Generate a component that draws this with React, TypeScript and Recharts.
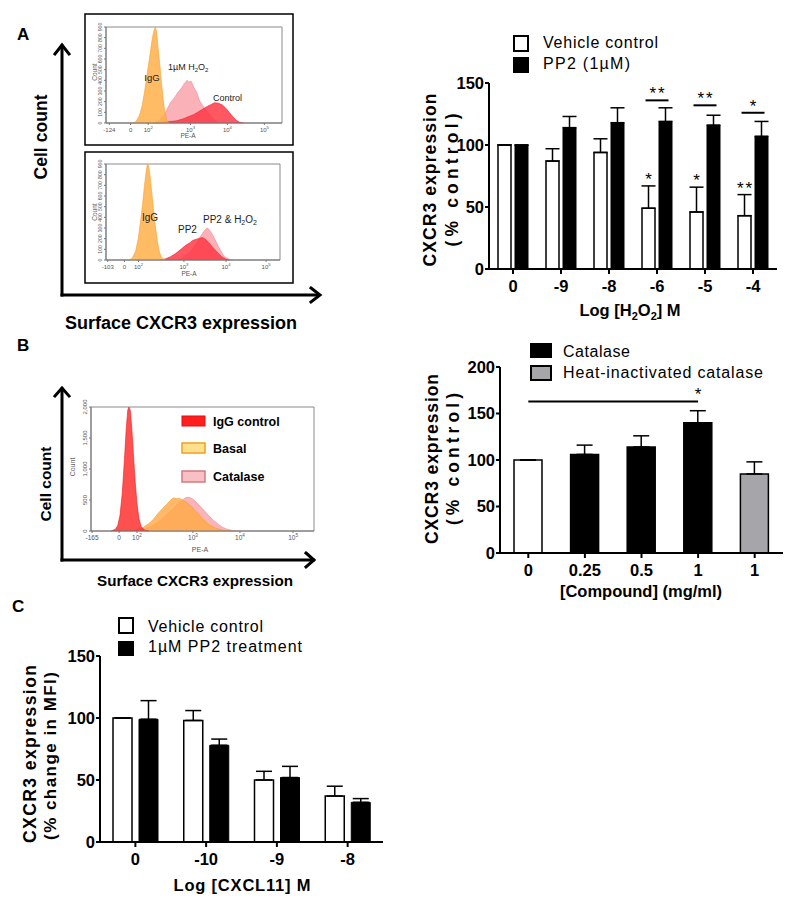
import React from 'react'
import {
  Area,
  AreaChart,
  Bar,
  BarChart,
  Cell,
  ErrorBar,
  LabelList,
  ReferenceArea,
  ReferenceDot,
  ReferenceLine,
  XAxis,
  YAxis,
} from 'recharts'

const FONT = '"Liberation Sans", Arial, Helvetica, sans-serif'

type Pt = [number, number]

// ---------- Panel A (left): flow histograms, x = position on the logicle display (0-100)
const topXTicks = [1.9, 14, 24, 48, 69, 90]
const topXLabels = ['-124', '0', '10^2', '10^3', '10^4', '10^5']
const topCountTicks = [0, 100, 200, 300, 400, 500, 600, 700, 800, 900]
const topIgG: Pt[] = [[15, 0], [17, 12], [19, 70], [20.5, 160], [22, 300], [23, 420], [24, 530], [25, 640], [26, 760], [27, 850], [28, 900], [28.7, 860], [29.5, 720], [30.5, 560], [31.5, 380], [32.5, 220], [33.5, 90], [34.5, 25], [36, 0]]
const topH2O2: Pt[] = [[27, 0], [30, 20], [33, 70], [35, 140], [37, 200], [39, 240], [41, 290], [43, 330], [44.5, 370], [46, 400], [47, 385], [48.5, 390], [50, 330], [51.5, 290], [53, 215], [55, 160], [57, 120], [59, 80], [61, 40], [64, 0]]
const topControl: Pt[] = [[28, 0], [34, 10], [40, 20], [44, 40], [47, 60], [50, 80], [52, 100], [54, 120], [56, 140], [58, 160], [60, 175], [61.5, 190], [63, 188], [64, 185], [66, 170], [68, 140], [70, 100], [72, 60], [74, 25], [76, 8], [78, 0]]

const botXTicks = [1, 10.6, 18.7, 44.8, 69, 92]
const botXLabels = ['-103', '0', '10^2', '10^3', '10^4', '10^5']
const botIgG: Pt[] = [[13, 0], [15, 15], [17, 80], [18.5, 200], [20, 380], [21, 520], [22, 680], [23, 820], [23.8, 900], [24.6, 880], [25.5, 760], [26.5, 600], [27.5, 440], [28.5, 300], [29.5, 180], [30.5, 90], [31.5, 35], [33, 8], [35, 0]]
const botPP2: Pt[] = [[31, 0], [34, 10], [37, 30], [40, 60], [43, 100], [46, 140], [48, 160], [50, 185], [52, 195], [54, 205], [55.5, 210], [57, 195], [59, 165], [61, 125], [63, 90], [65, 55], [67, 25], [69, 8], [71, 0]]
const botMix: Pt[] = [[42, 0], [45, 30], [48, 70], [50, 110], [52, 160], [54, 215], [55.5, 250], [57, 285], [58, 300], [59, 290], [60, 270], [61.5, 230], [63, 180], [64.5, 130], [66, 85], [67.5, 45], [69, 20], [71, 5], [73, 0]]

// ---------- Panel B (left): flow histogram
const bXTicks = [0.5, 12.6, 20.6, 45.7, 66.8, 90.6]
const bXLabels = ['-165', '0', '10^2', '10^3', '10^4', '10^5']
const bCountTicks = [0, 500, 1000, 1500, 2000]
const bIgG: Pt[] = [[9, 0], [11, 30], [12, 90], [13, 250], [14, 600], [15, 1150], [15.8, 1650], [16.5, 1950], [17, 2000], [17.6, 1950], [18.2, 1700], [19, 1250], [19.8, 800], [20.6, 450], [21.5, 200], [22.5, 70], [24, 15], [26, 0]]
const bBasal: Pt[] = [[17, 0], [20, 15], [23, 50], [26, 120], [28, 190], [30, 280], [32, 360], [34, 430], [35.5, 490], [37, 535], [38.2, 520], [39.5, 530], [41, 500], [43, 460], [45, 400], [47, 320], [49, 240], [51, 160], [53, 100], [56, 45], [59, 15], [63, 0]]
const bCatalase: Pt[] = [[20, 0], [24, 30], [28, 90], [31, 170], [34, 270], [37, 370], [39, 440], [41, 500], [42.5, 540], [44, 545], [45.5, 520], [47, 470], [49, 400], [51, 320], [53, 240], [55, 170], [57, 110], [59, 60], [61, 30], [63, 12], [66, 0]]

// ---------- Panel A (right): CXCR3 vs H2O2
const aCats = ['0', '-9', '-8', '-6', '-5', '-4']
const aVehicle = [100, 87, 94, 49, 46, 43]
const aVehicleErr = [0, 10, 11, 18, 20, 17]
const aPP2 = [100, 114, 118, 119, 116, 107]
const aPP2Err = [0, 9, 12, 11, 8, 12]
const aVehicleStars = ['', '', '', '*', '*', '**']
const aPairStars = ['', '', '', '**', '**', '*']
const aPairLineAt = [0, 0, 0, 136, 132, 126]

// ---------- Panel B (right): catalase
const bKeys = ['c0', 'c1', 'c2', 'c3', 'c4']
const bLabels = ['0', '0.25', '0.5', '1', '1']
const bValues = [100, 106, 114, 140, 85]
const bErr = [0, 10, 12, 13, 13]
const bFills = ['#ffffff', '#000000', '#000000', '#000000', '#a6a6aa']
const bSigFrom = 'c0'
const bSigTo = 'c3'
const bSigAt = 163

// ---------- Panel C: CXCL11
const cCats = ['0', '-10', '-9', '-8']
const cVehicle = [100, 98, 50, 37]
const cVehicleErr = [0, 8, 7, 8]
const cPP2 = [99, 78, 52, 32]
const cPP2Err = [15, 5, 9, 3]

const aRows = aCats.map((cat, i) => ({
  cat,
  veh: aVehicle[i],
  vehErr: [0, aVehicleErr[i]],
  pp2: aPP2[i],
  pp2Err: [0, aPP2Err[i]],
}))
const bRows = bKeys.map((key, i) => ({ key, val: bValues[i], err: [0, bErr[i]] }))
const cRows = cCats.map((cat, i) => ({
  cat,
  veh: cVehicle[i],
  vehErr: [0, cVehicleErr[i]],
  pp2: cPP2[i],
  pp2Err: [0, cPP2Err[i]],
}))

function mergeSeries(series: Record<string, Pt[]>) {
  const rows = new Map<number, Record<string, number>>()
  Object.entries(series).forEach(([key, pts]) => {
    pts.forEach(([x, y]) => {
      const row = rows.get(x) ?? { x }
      row[key] = y
      rows.set(x, row)
    })
  })
  return Array.from(rows.values()).sort((a, b) => a.x - b.x)
}

function makePowTick(positions: number[], labels: string[], size: number) {
  return function PowTick(props: any) {
    const { x, y, payload } = props
    const lab = labels[positions.indexOf(payload.value)] ?? ''
    const [base, exp] = lab.split('^')
    return (
      <text x={x} y={y + size * 0.8} textAnchor="middle" fontSize={size} fill="#555" fontFamily={FONT}>
        {base}
        {exp && (
          <tspan dy={-size * 0.45} fontSize={size * 0.7}>
            {exp}
          </tspan>
        )}
      </text>
    )
  }
}

function makeRotTick(size: number) {
  return function RotTick(props: any) {
    const { x, y, payload } = props
    return (
      <text x={x} y={y} transform={`rotate(-90 ${x} ${y})`} textAnchor="middle" fontSize={size} fill="#555" fontFamily={FONT}>
        {Number(payload.value).toLocaleString('en-US')}
      </text>
    )
  }
}

interface HistSeries {
  key: string
  points: Pt[]
  color: string
  edge: string
}

interface HistProps {
  width: number
  height: number
  margin: { top: number; right: number; bottom: number; left: number }
  series: HistSeries[]
  xTicks: number[]
  xLabels: string[]
  yTicks: number[]
  yMax: number
  xTickFont: number
  yTickFont: number
  yWidth: number
}

function FlowHistogram(p: HistProps) {
  const data = mergeSeries(Object.fromEntries(p.series.map((s) => [s.key, s.points])))
  return (
    <AreaChart width={p.width} height={p.height} data={data} margin={p.margin}>
      <XAxis
        dataKey="x"
        type="number"
        domain={[0, 100]}
        ticks={p.xTicks}
        interval={0}
        tick={makePowTick(p.xTicks, p.xLabels, p.xTickFont)}
        tickSize={2}
        tickLine={{ stroke: '#777' }}
        axisLine={{ stroke: '#777' }}
        height={17}
      />
      <YAxis
        type="number"
        domain={[0, p.yMax]}
        ticks={p.yTicks}
        interval={0}
        width={p.yWidth}
        tick={makeRotTick(p.yTickFont)}
        tickSize={2}
        tickLine={{ stroke: '#777' }}
        axisLine={{ stroke: '#777' }}
      />
      <ReferenceArea x1={0} x2={100} y1={0} y2={p.yMax} fill="none" stroke="#8a8a8a" strokeWidth={1} />
      {p.series.map((s) => (
        <Area
          key={s.key}
          type="linear"
          dataKey={s.key}
          stroke={s.edge}
          strokeWidth={0.6}
          fill={s.color}
          fillOpacity={0.82}
          connectNulls
          dot={false}
          activeDot={false}
          isAnimationActive={false}
        />
      ))}
    </AreaChart>
  )
}

function box(p: any) {
  const vb = p.viewBox ?? {}
  return {
    x: Number(p.x ?? vb.x),
    y: Number(p.y ?? vb.y),
    width: Number(p.width ?? vb.width),
    height: Number(p.height ?? vb.height),
  }
}

const starStyle = { fontSize: 17, fontFamily: FONT, fill: '#000', letterSpacing: 2 }

function vehicleStar(p: any) {
  const i = p.index
  const s = aVehicleStars[i]
  if (!s) return null
  const { x, y, width, height } = box(p)
  const unit = height / aVehicle[i]
  const top = y - aVehicleErr[i] * unit
  return (
    <text x={x + width / 2 + 1} y={top - 1} textAnchor="middle" style={starStyle}>
      {s}
    </text>
  )
}

function pairSig(p: any) {
  const i = p.index
  const s = aPairStars[i]
  if (!s) return null
  const { x, y, width, height } = box(p)
  const unit = height / aPP2[i]
  const ly = y + height - aPairLineAt[i] * unit
  const x1 = x - 4 - width / 2 - 3
  const x2 = x + width / 2 + 3
  return (
    <g>
      <line x1={x1} x2={x2} y1={ly} y2={ly} stroke="#000" strokeWidth={2} />
      <text x={(x1 + x2) / 2 + 1} y={ly - 1} textAnchor="middle" style={starStyle}>
        {s}
      </text>
    </g>
  )
}

const tickFont = { fontSize: 16.5, fontWeight: 700, fill: '#000', fontFamily: FONT }
const axisStroke = { stroke: '#000', strokeWidth: 2 }

function Overlay() {
  const bold = { fontWeight: 700, fontFamily: FONT, fill: '#000' }
  return (
    <svg width={800} height={906} style={{ position: 'absolute', left: 0, top: 0, pointerEvents: 'none' }} fontFamily={FONT}>
      {/* panel letters */}
      <text x={17} y={40} fontSize={17} style={bold}>A</text>
      <text x={17} y={351} fontSize={17} style={bold}>B</text>
      <text x={12} y={612} fontSize={17} style={bold}>C</text>

      {/* panel A histogram frames */}
      <rect x={85} y={14} width={208} height={131} fill="none" stroke="#000" strokeWidth={1.5} />
      <rect x={85} y={152} width={208} height={131} fill="none" stroke="#000" strokeWidth={1.5} />

      {/* panel A histogram labels */}
      <text x={97} y={72} fontSize={6.5} fill="#666" textAnchor="middle" transform="rotate(-90 97 72)">Count</text>
      <text x={188} y={138} fontSize={6.5} fill="#555" textAnchor="middle">PE-A</text>
      <text x={152} y={81} fontSize={9.5} textAnchor="middle" fill="#222">IgG</text>
      <text x={168} y={70} fontSize={9} fill="#222">
        1µM H<tspan dy={2} fontSize={6}>2</tspan><tspan dy={-2}>O</tspan><tspan dy={2} fontSize={6}>2</tspan>
      </text>
      <text x={213} y={101} fontSize={9} fill="#222">Control</text>

      <text x={97} y={212} fontSize={6.5} fill="#666" textAnchor="middle" transform="rotate(-90 97 212)">Count</text>
      <text x={189} y={276} fontSize={6.5} fill="#555" textAnchor="middle">PE-A</text>
      <text x={150} y={220.5} fontSize={10} textAnchor="middle" fill="#222">IgG</text>
      <text x={178} y={232.5} fontSize={10} fill="#222">PP2</text>
      <text x={203} y={223} fontSize={10} fill="#222">
        PP2 &amp; H<tspan dy={2} fontSize={7}>2</tspan><tspan dy={-2}>O</tspan><tspan dy={2} fontSize={7}>2</tspan>
      </text>

      {/* panel A big axes */}
      <g stroke="#000" strokeWidth={3} fill="none" strokeLinecap="square">
        <line x1={62} y1={295} x2={62} y2={46} />
        <polyline points="55,54 62,45 69,54" />
        <line x1={62} y1={295} x2={318} y2={295} />
        <polyline points="311,288 320,295 311,302" />
      </g>
      <text x={41} y={137} fontSize={17.5} textAnchor="middle" dominantBaseline="central" textLength={85} lengthAdjust="spacing" transform="rotate(-90 41 137)" style={bold}>
        Cell count
      </text>
      <text x={181} y={329} fontSize={18} textAnchor="middle" textLength={232} lengthAdjust="spacingAndGlyphs" style={bold}>
        Surface CXCR3 expression
      </text>

      {/* panel B histogram */}
      <g stroke="#000" strokeWidth={3} fill="none" strokeLinecap="square">
        <line x1={62} y1={560} x2={62} y2={389} />
        <polyline points="55,396 62,388 69,396" />
        <line x1={62} y1={560} x2={313} y2={560} />
        <polyline points="306,553 314,560 306,567" />
      </g>
      <text x={45} y={484} fontSize={15.5} textAnchor="middle" dominantBaseline="central" textLength={75} lengthAdjust="spacing" transform="rotate(-90 45 484)" style={bold}>
        Cell count
      </text>
      <text x={195} y={586} fontSize={15.2} textAnchor="middle" textLength={196} lengthAdjust="spacingAndGlyphs" style={bold}>
        Surface CXCR3 expression
      </text>
      <text x={75} y={467} fontSize={7} fill="#666" textAnchor="middle" transform="rotate(-90 75 467)">Count</text>
      <text x={200} y={552} fontSize={7} fill="#555" textAnchor="middle">PE-A</text>
      <rect x={182} y={416} width={23} height={10} fill="#ff1f1f" stroke="#e01010" strokeWidth={1} />
      <rect x={182} y={443} width={23} height={10} fill="#ffe08c" stroke="#f0a020" strokeWidth={1.5} />
      <rect x={182} y={471} width={23} height={11} fill="#f8c0c4" stroke="#d27a80" strokeWidth={1.5} />
      <text x={213} y={425.5} fontSize={12.5} style={bold}>IgG control</text>
      <text x={213} y={452.5} fontSize={12.5} style={bold}>Basal</text>
      <text x={213} y={480.5} fontSize={12.5} style={bold}>Catalase</text>

      {/* panel A bar chart legend and titles */}
      <rect x={514} y={36} width={14} height={15} fill="#fff" stroke="#000" strokeWidth={2} />
      <rect x={513} y={57} width={16} height={16} fill="#000" />
      <text x={543} y={48} fontSize={16} textLength={115} lengthAdjust="spacing">Vehicle control</text>
      <text x={543} y={69} fontSize={16} textLength={87} lengthAdjust="spacing">PP2 (1µM)</text>
      <text x={430} y={180} fontSize={17.5} textAnchor="middle" dominantBaseline="central" textLength={173} lengthAdjust="spacing" transform="rotate(-90 430 180)" style={bold}>
        CXCR3 expression
      </text>
      <text x={452} y={180} fontSize={17.5} textAnchor="middle" dominantBaseline="central" textLength={133} lengthAdjust="spacing" transform="rotate(-90 452 180)" style={bold}>
        (% control)
      </text>
      <text x={630} y={316} fontSize={16.5} textAnchor="middle" style={bold}>
        Log [H<tspan dy={4} fontSize={11}>2</tspan><tspan dy={-4}>O</tspan><tspan dy={4} fontSize={11}>2</tspan><tspan dy={-4}>] M</tspan>
      </text>

      {/* panel B bar chart legend and titles */}
      <rect x={530} y={343} width={22} height={15} fill="#000" />
      <rect x={531} y={366} width={20} height={14} fill="#a6a6aa" stroke="#000" strokeWidth={2} />
      <text x={563} y={357} fontSize={16} textLength={67} lengthAdjust="spacing">Catalase</text>
      <text x={563} y={378} fontSize={16} textLength={200} lengthAdjust="spacing">Heat-inactivated catalase</text>
      <text x={432} y={459} fontSize={17.5} textAnchor="middle" dominantBaseline="central" textLength={170} lengthAdjust="spacing" transform="rotate(-90 432 459)" style={bold}>
        CXCR3 expression
      </text>
      <text x={453} y={459} fontSize={17.5} textAnchor="middle" dominantBaseline="central" textLength={132} lengthAdjust="spacing" transform="rotate(-90 453 459)" style={bold}>
        (% control)
      </text>
      <text x={641} y={597} fontSize={16.5} textAnchor="middle" style={bold}>
        [Compound] (mg/ml)
      </text>

      {/* panel C legend and titles */}
      <rect x={119} y={618} width={14} height={15} fill="#fff" stroke="#000" strokeWidth={2} />
      <rect x={118} y={641} width={16} height={15} fill="#000" />
      <text x={148} y={632} fontSize={16} textLength={115} lengthAdjust="spacing">Vehicle control</text>
      <text x={148} y={652} fontSize={16} textLength={154} lengthAdjust="spacing">1µM PP2 treatment</text>
      <text x={30} y={754} fontSize={17.5} textAnchor="middle" dominantBaseline="central" textLength={178} lengthAdjust="spacing" transform="rotate(-90 30 754)" style={bold}>
        CXCR3 expression
      </text>
      <text x={50} y={756} fontSize={17} textAnchor="middle" dominantBaseline="central" textLength={168} lengthAdjust="spacing" transform="rotate(-90 50 756)" style={bold}>
        (% change in MFI)
      </text>
      <text x={242} y={891} fontSize={16.5} textAnchor="middle" textLength={137} lengthAdjust="spacing" style={bold}>
        Log [CXCL11] M
      </text>
    </svg>
  )
}

export default function App() {
  return (
    <div style={{ position: 'absolute', left: 0, top: 0, width: 800, height: 906, background: '#fff', fontFamily: FONT, overflow: 'hidden' }}>
      <div style={{ position: 'absolute', left: 85, top: 14 }}>
        <FlowHistogram
          width={208}
          height={131}
          margin={{ top: 13, right: 11, bottom: 5, left: 9 }}
          series={[
            { key: 'h2o2', points: topH2O2, color: '#f9a0a8', edge: '#f28890' },
            { key: 'control', points: topControl, color: '#ff3341', edge: '#f02030' },
            { key: 'igg', points: topIgG, color: '#ffad42', edge: '#f5a030' },
          ]}
          xTicks={topXTicks}
          xLabels={topXLabels}
          yTicks={topCountTicks}
          yMax={900}
          xTickFont={6}
          yTickFont={5.2}
          yWidth={12}
        />
      </div>
      <div style={{ position: 'absolute', left: 85, top: 152 }}>
        <FlowHistogram
          width={208}
          height={131}
          margin={{ top: 12, right: 13, bottom: 6, left: 9 }}
          series={[
            { key: 'mix', points: botMix, color: '#f9a0a8', edge: '#f28890' },
            { key: 'pp2', points: botPP2, color: '#ff3341', edge: '#f02030' },
            { key: 'igg', points: botIgG, color: '#ffad42', edge: '#f5a030' },
          ]}
          xTicks={botXTicks}
          xLabels={botXLabels}
          yTicks={topCountTicks}
          yMax={900}
          xTickFont={6}
          yTickFont={5.2}
          yWidth={12}
        />
      </div>
      <div style={{ position: 'absolute', left: 55, top: 395 }}>
        <FlowHistogram
          width={270}
          height={160}
          margin={{ top: 12, right: 11, bottom: 7, left: 22 }}
          series={[
            { key: 'catalase', points: bCatalase, color: '#f6a3a8', edge: '#ef8f96' },
            { key: 'basal', points: bBasal, color: '#ffaa45', edge: '#f79a30' },
            { key: 'igg', points: bIgG, color: '#ff2a2a', edge: '#f01818' },
          ]}
          xTicks={bXTicks}
          xLabels={bXLabels}
          yTicks={bCountTicks}
          yMax={2000}
          xTickFont={6.5}
          yTickFont={6}
          yWidth={14}
        />
      </div>

      {/* Panel A bars */}
      <div style={{ position: 'absolute', left: 400, top: 20 }}>
        <BarChart width={390} height={300} data={aRows} margin={{ top: 63, right: 13, bottom: 21, left: 39 }} barGap={4}>
          <XAxis dataKey="cat" interval={0} height={30} tickSize={5} tickMargin={6} tick={tickFont} axisLine={axisStroke} tickLine={axisStroke} />
          <YAxis domain={[0, 150]} ticks={[0, 50, 100, 150]} interval={0} width={50} tickSize={4} tickMargin={1} tick={tickFont} axisLine={axisStroke} tickLine={axisStroke} />
          <Bar dataKey="veh" fill="#fff" stroke="#000" strokeWidth={1.5} barSize={13} isAnimationActive={false}>
            <ErrorBar dataKey="vehErr" width={7} stroke="#000" strokeWidth={1.5} direction="y" />
            <LabelList dataKey="veh" content={vehicleStar} />
          </Bar>
          <Bar dataKey="pp2" fill="#000" stroke="#000" strokeWidth={1} barSize={13} isAnimationActive={false}>
            <ErrorBar dataKey="pp2Err" width={7} stroke="#000" strokeWidth={1.5} direction="y" />
            <LabelList dataKey="pp2" content={pairSig} />
          </Bar>
        </BarChart>
      </div>

      {/* Panel B bars */}
      <div style={{ position: 'absolute', left: 400, top: 330 }}>
        <BarChart width={400} height={270} data={bRows} margin={{ top: 37, right: 17, bottom: 17, left: 50 }}>
          <XAxis
            dataKey="key"
            interval={0}
            height={30}
            tickSize={5}
            tickMargin={6}
            tick={tickFont}
            tickFormatter={(v: string) => bLabels[bKeys.indexOf(v)]}
            axisLine={axisStroke}
            tickLine={axisStroke}
          />
          <YAxis domain={[0, 200]} ticks={[0, 50, 100, 150, 200]} interval={0} width={50} tickSize={4} tickMargin={1} tick={tickFont} axisLine={axisStroke} tickLine={axisStroke} />
          <Bar dataKey="val" stroke="#000" strokeWidth={1.5} barSize={28} isAnimationActive={false}>
            {bRows.map((r, i) => (
              <Cell key={r.key} fill={bFills[i]} />
            ))}
            <ErrorBar dataKey="err" width={8} stroke="#000" strokeWidth={1.5} direction="y" />
          </Bar>
          <ReferenceLine segment={[{ x: bSigFrom, y: bSigAt }, { x: bSigTo, y: bSigAt }]} stroke="#000" strokeWidth={2} />
          <ReferenceDot x={bSigTo} y={bSigAt} r={0} fill="none" stroke="none" label={{ value: '*', position: 'top', offset: 1, fontSize: 17, fill: '#000' }} />
        </BarChart>
      </div>

      {/* Panel C bars */}
      <div style={{ position: 'absolute', left: 0, top: 600 }}>
        <BarChart width={400} height={306} data={cRows} margin={{ top: 56, right: 17, bottom: 34, left: 50 }} barGap={7}>
          <XAxis dataKey="cat" interval={0} height={30} tickSize={5} tickMargin={6} tick={tickFont} axisLine={axisStroke} tickLine={axisStroke} />
          <YAxis domain={[0, 150]} ticks={[0, 50, 100, 150]} interval={0} width={50} tickSize={4} tickMargin={1} tick={tickFont} axisLine={axisStroke} tickLine={axisStroke} />
          <Bar dataKey="veh" fill="#fff" stroke="#000" strokeWidth={1.5} barSize={19} isAnimationActive={false}>
            <ErrorBar dataKey="vehErr" width={8} stroke="#000" strokeWidth={1.5} direction="y" />
          </Bar>
          <Bar dataKey="pp2" fill="#000" stroke="#000" strokeWidth={1} barSize={19} isAnimationActive={false}>
            <ErrorBar dataKey="pp2Err" width={8} stroke="#000" strokeWidth={1.5} direction="y" />
          </Bar>
        </BarChart>
      </div>

      <Overlay />
    </div>
  )
}
